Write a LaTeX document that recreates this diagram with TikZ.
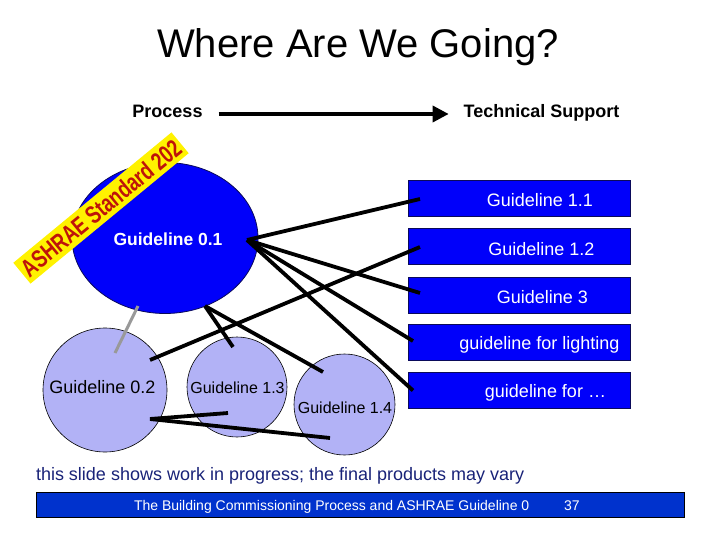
\documentclass[tikz,border=0pt]{standalone}
\usepackage{fontspec}
\setmainfont{Liberation Sans}
\usetikzlibrary{arrows.meta,shapes.geometric,calc}
\definecolor{bigblue}{RGB}{0,0,250}
\definecolor{boxedge}{RGB}{10,10,90}
\definecolor{lav}{RGB}{178,178,246}
\definecolor{bannerred}{RGB}{190,20,10}
\definecolor{navytext}{RGB}{25,35,120}
\definecolor{footblue}{RGB}{0,50,205}
\begin{document}
\begin{tikzpicture}[x=1pt,y=-1pt,
  every node/.style={inner sep=0pt, outer sep=0pt},
  bluebox/.style={rectangle, fill=bigblue, draw=boxedge, line width=0.8pt, minimum width=222pt, minimum height=36pt},
  boxtext/.style={anchor=base, text=white, font=\fontsize{18}{21}\selectfont},
  lavcirc/.style={circle, fill=lav, draw=black, line width=0.6pt},
  circtext/.style={anchor=base, text=black},
  conn/.style={line width=3.8pt, black},
  grayconn/.style={line width=3pt, gray!80},
  headtext/.style={anchor=base, font=\fontsize{18}{21}\selectfont\bfseries}
]
\path[use as bounding box] (0,0) rectangle (720,540);

% title
\node[anchor=base, font=\fontsize{40}{48}\selectfont] (title) at (358,58) {Where Are We Going?};

% process arrow
\node[headtext] (process) at (167.5,117.5) {Process};
\node[headtext] (tech) at (541.5,117.5) {Technical Support};
\draw[line width=3.5pt, -{Triangle[length=16pt,width=16pt]}]
  ($(process.base east)+(16,-3.5)$) -- ($(tech.base west)+(-15,-3.5)$);

% big ellipse
\node[ellipse, fill=bigblue, draw=boxedge, line width=0.8pt, minimum width=186pt, minimum height=151pt] (g01) at (165,238) {};
\node[anchor=base, text=white, font=\fontsize{17.5}{20}\selectfont\bfseries] (t01) at (168,245) {Guideline 0.1};

% banner
\node[rotate=39.5, fill=yellow, minimum width=205pt, minimum height=27pt, text=bannerred, font=\fontsize{18.5}{21}\selectfont\bfseries] (banner) at (101,208) {\scalebox{1}[1.35]{ASHRAE Standard 202}};

% right boxes
\node[bluebox] (g11) at (519,198) {};
\node[bluebox] (g12) at (519,246) {};
\node[bluebox] (g3) at (519,295) {};
\node[bluebox] (glight) at (519,342.5) {};
\node[bluebox] (gfor) at (519,390.5) {};
\node[boxtext] (t11) at (540,207) {Guideline 1.1};
\node[boxtext] (t12) at (541.5,255) {Guideline 1.2};
\node[boxtext] (t3) at (542.5,303) {Guideline 3};
\node[boxtext] (tlight) at (539.5,349) {guideline for lighting};
\node[boxtext] (tfor) at (545.5,397) {guideline for …};

% lavender circles
\node[lavcirc, minimum size=124pt] (g02) at (105,390) {};
\node[lavcirc, minimum size=100pt] (g13) at (237,387) {};
\node[lavcirc, minimum size=101pt] (g14) at (344.5,404.5) {};
\node[circtext, font=\fontsize{18}{21}\selectfont] (t02) at (102.5,393) {Guideline 0.2};
\node[circtext, font=\fontsize{16}{19}\selectfont] (t13) at (237.5,393) {Guideline 1.3};
\node[circtext, font=\fontsize{16}{19}\selectfont] (t14) at (345,413) {Guideline 1.4};

% connectors
\draw[conn] ($(g01.center)+(82,2)$) -- ($(g11.west)+(12,1)$);
\draw[conn] ($(g01.center)+(82,2)$) -- ($(g3.west)+(12,-2)$);
\draw[conn] ($(g01.center)+(82,2)$) -- ($(glight.west)+(5,-1.5)$);
\draw[conn] ($(g01.center)+(82,2)$) -- ($(gfor.west)+(5,0)$);
\draw[conn] ($(g02.center)+(45,-30)$) -- ($(g12.west)+(12,1)$);
\draw[conn] ($(g01.center)+(40,68)$) -- ($(g13.center)+(-4,-40)$);
\draw[conn] ($(g01.center)+(40,68)$) -- ($(g14.center)+(-21.5,-32.5)$);
\draw[grayconn] ($(g01.center)+(-27,68)$) -- ($(g02.center)+(10,-37)$);
\draw[conn] ($(g02.center)+(45,29)$) -- ($(g13.center)+(-9,26)$);
\draw[conn] ($(g02.center)+(45,29)$) -- ($(g14.center)+(-14.5,33.5)$);

% bottom note
\node[anchor=base west, text=navytext, font=\fontsize{18}{21}\selectfont] (note) at (36,480) {this slide shows work in progress; the final products may vary};

% footer
\node[rectangle, fill=footblue, draw=black, line width=0.8pt, minimum width=648pt, minimum height=25pt] (footer) at (360,504.5) {};
\node[anchor=base west, text=white, font=\fontsize{14}{17}\selectfont] (foottext) at (134,510) {The Building Commissioning Process and ASHRAE Guideline 0};
\node[anchor=base west, text=white, font=\fontsize{14}{17}\selectfont] (pagenum) at (564,510) {37};
\end{tikzpicture}
\end{document}
